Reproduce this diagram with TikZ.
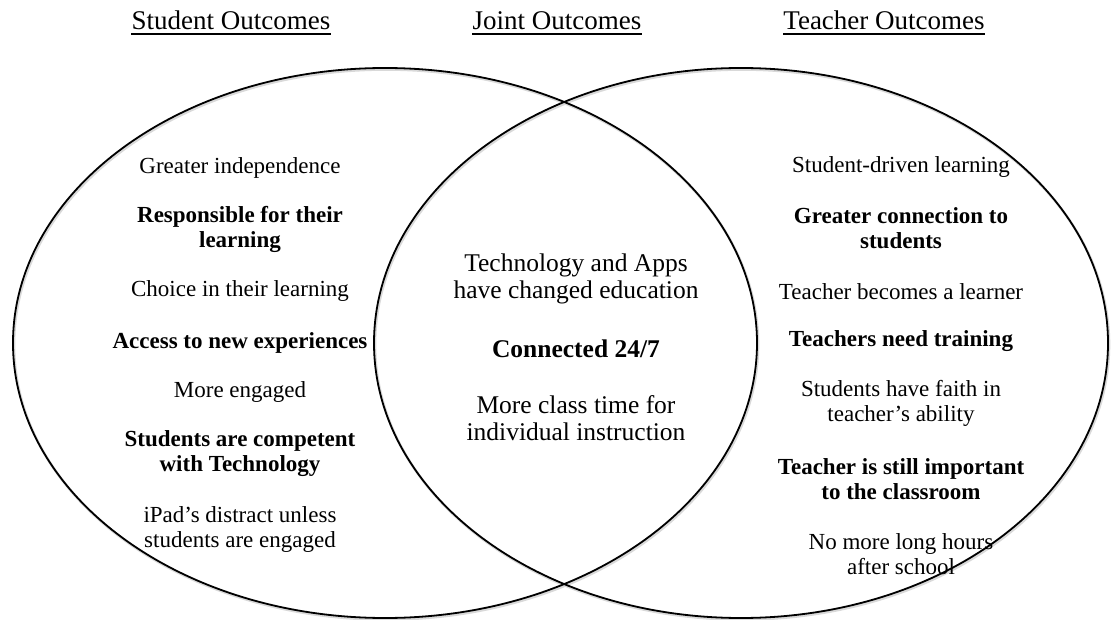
\documentclass[tikz,border=0pt]{standalone}
\usepackage{fontspec}
\setmainfont{Liberation Serif}
\tikzset{
  venn/.style={draw=black, line width=1.8pt},
  vshadow/.style={draw=black!15, line width=2.6pt},
  head/.style={inner sep=0pt, anchor=base, font=\fontsize{27}{30}\selectfont},
  item/.style={inner sep=0pt, align=center, anchor=center, font=\fontsize{23}{25}\selectfont},
  bitem/.style={item, font=\fontsize{23}{25}\selectfont\bfseries},
  citem/.style={inner sep=0pt, align=center, anchor=center, font=\fontsize{25.5}{27}\selectfont},
  cbitem/.style={citem, font=\fontsize{25.5}{27}\selectfont\bfseries},
  uline/.style={line width=1.2pt}
}
\begin{document}
\begin{tikzpicture}[x=1pt,y=-1pt]
\useasboundingbox (0,0) rectangle (1111,620);
% soft shadows
\draw[vshadow] (386,344.5) ellipse [x radius=372, y radius=275];
\draw[vshadow] (742,344.5) ellipse [x radius=367, y radius=275];
% circles
\draw[venn] (385,343) ellipse [x radius=372, y radius=275];
\draw[venn] (741,343) ellipse [x radius=367, y radius=275];
% headers
\node[head] (hs) at (231,30) {Student Outcomes};
\node[head] (hj) at (557,30) {Joint Outcomes};
\node[head] (ht) at (884,30) {Teacher Outcomes};
\foreach \h in {hs,hj,ht}
  \draw[uline] ([yshift=-4pt]\h.base west) -- ([yshift=-4pt]\h.base east);
% student outcomes
\node[item]  (s1) at (240,168)   {Greater independence};
\node[bitem] (s2) at (240,229) {Responsible for their\\learning};
\node[item]  (s3) at (240,291.5)   {Choice in their learning};
\node[bitem] (s4) at (240,342.5)   {Access to new experiences};
\node[item]  (s5) at (240,392)   {More engaged};
\node[bitem] (s6) at (240,454) {Students are competent\\with Technology};
\node[item]  (s7) at (240,529.5)   {iPad’s distract unless\\students are engaged};
% joint outcomes
\node[citem]  (j1) at (576,278.5) {Technology and Apps\\have changed education};
\node[cbitem] (j2) at (576,348.5)   {Connected 24/7};
\node[citem]  (j3) at (576,418)   {More class time for\\individual instruction};
% teacher outcomes
\node[item]  (t1) at (901,167.5)   {Student-driven learning};
\node[bitem] (t2) at (901,228) {Greater connection to\\students};
\node[item]  (t3) at (901,291.5)   {Teacher becomes a learner};
\node[bitem] (t4) at (901,341) {Teachers need training};
\node[item]  (t5) at (901,403.5) {Students have faith in\\teacher’s ability};
\node[bitem] (t6) at (901,479) {Teacher is still important\\to the classroom};
\node[item]  (t7) at (901,554)   {No more long hours\\after school};
\end{tikzpicture}
\end{document}
